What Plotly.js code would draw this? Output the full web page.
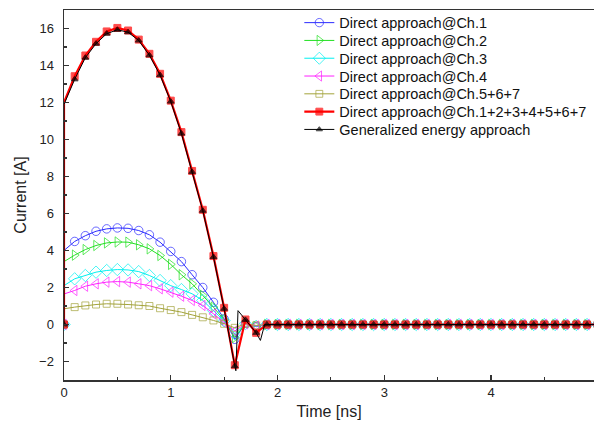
<!DOCTYPE html>
<html>
<head>
<meta charset="utf-8">
<script src="https://cdn.plot.ly/plotly-3.0.1.min.js"></script>
<style>html,body{margin:0;padding:0;background:#fff;}#chart{width:594px;height:423px;}</style>
</head>
<body>
<div id="chart"></div>
<script>
// Time grid (ns)
const time = [0,0.1,0.2,0.3,0.4,0.5,0.6,0.7,0.8,0.9,1.0,1.1,1.2,1.3,1.4,1.5,1.6,1.7,1.8,1.9,
  2.0,2.1,2.2,2.3,2.4,2.5,2.6,2.7,2.8,2.9,3.0,3.1,3.2,3.3,3.4,3.5,3.6,3.7,3.8,3.9,
  4.0,4.1,4.2,4.3,4.4,4.5,4.6,4.7,4.8,4.9,5.0];

// value right after the switch-on at t = 0
const startCh1 = 4.0, startCh2 = 3.4, startCh3 = 2.1, startCh4 = 1.65, startCh567 = 0.85, startTotal = 12.0, startEnergy = 11.9;

const ch1 = [0,4.49,4.80,5.04,5.17,5.22,5.20,5.08,4.85,4.45,3.95,3.40,2.69,2.00,1.20,0.30,-0.80,0.07,-0.12,0,
  0,0,0,0,0,0,0,0,0,0,0,0,0,0,0,0,0,0,0,0,0,0,0,0,0,0,0,0,0,0,0];
const ch2 = [0,3.75,4.05,4.27,4.41,4.46,4.45,4.31,4.09,3.73,3.25,2.69,2.20,1.57,0.94,0.25,-0.70,0.06,-0.10,0,
  0,0,0,0,0,0,0,0,0,0,0,0,0,0,0,0,0,0,0,0,0,0,0,0,0,0,0,0,0,0,0];
const ch3 = [0,2.47,2.65,2.83,2.92,2.97,2.95,2.86,2.65,2.38,2.10,1.89,1.66,1.30,0.76,0.20,-0.50,0.05,-0.10,0,
  0,0,0,0,0,0,0,0,0,0,0,0,0,0,0,0,0,0,0,0,0,0,0,0,0,0,0,0,0,0,0];
const ch4 = [0,1.84,2.07,2.20,2.29,2.32,2.29,2.20,2.10,1.93,1.75,1.53,1.30,1.03,0.58,0.12,-0.35,0.04,-0.08,0,
  0,0,0,0,0,0,0,0,0,0,0,0,0,0,0,0,0,0,0,0,0,0,0,0,0,0,0,0,0,0,0];
const ch567 = [0,0.94,1.03,1.08,1.12,1.12,1.08,1.04,1.00,0.88,0.78,0.67,0.52,0.39,0.22,0.04,-0.18,0.04,-0.05,0,
  0,0,0,0,0,0,0,0,0,0,0,0,0,0,0,0,0,0,0,0,0,0,0,0,0,0,0,0,0,0,0];
const total = [0,13.42,14.54,15.28,15.84,16.03,15.89,15.40,14.63,13.55,12.10,10.40,8.30,6.20,3.70,0.90,-2.20,0.27,-0.45,0,
  0,0,0,0,0,0,0,0,0,0,0,0,0,0,0,0,0,0,0,0,0,0,0,0,0,0,0,0,0,0,0];
const energy = [0,13.25,14.42,15.18,15.72,15.93,15.80,15.35,14.55,13.48,12.05,10.32,8.25,6.15,3.65,0.85,-2.25,0.25,-0.45,0,
  0,0,0,0,0,0,0,0,0,0,0,0,0,0,0,0,0,0,0,0,0,0,0,0,0,0,0,0,0,0,0];
// finer samples of the energy approach between grid points (no marker)
const energyExtraT = [1.61,1.63,1.84,1.88];
const energyExtraV = [-2.5,0.75,-0.86,0];

const names = ['Direct approach@Ch.1','Direct approach@Ch.2','Direct approach@Ch.3','Direct approach@Ch.4',
  'Direct approach@Ch.5+6+7','Direct approach@Ch.1+2+3+4+5+6+7','Generalized energy approach'];

function build(vals, start, extraT, extraV, msize) {
  let pts = [];
  pts.push({x: time[0], y: vals[0], m: msize, o: 0});
  pts.push({x: time[0], y: start, m: 0, o: 1});
  for (let i = 1; i < time.length; i++) pts.push({x: time[i], y: vals[i], m: msize, o: 0});
  if (extraT) for (let j = 0; j < extraT.length; j++) pts.push({x: extraT[j], y: extraV[j], m: 0, o: 0});
  pts.sort((a, b) => (a.x - b.x) || (a.o - b.o));
  return {x: pts.map(p => p.x), y: pts.map(p => p.y), s: pts.map(p => p.m)};
}

const specs = [
  {v: ch1, s0: startCh1, color: '#2b2bff', sym: 'circle-open', size: 8.5, lw: 1},
  {v: ch2, s0: startCh2, color: '#22e022', sym: 'triangle-right-open', size: 9, lw: 1},
  {v: ch3, s0: startCh3, color: '#00f0f0', sym: 'diamond-open', size: 9.5, lw: 1},
  {v: ch4, s0: startCh4, color: '#ff22ff', sym: 'triangle-left-open', size: 9, lw: 1},
  {v: ch567, s0: startCh567, color: '#a3a33a', sym: 'square-open', size: 7, lw: 1},
  {v: total, s0: startTotal, color: '#ff0000', sym: 'square', size: 7, lw: 2.2},
  {v: energy, s0: startEnergy, color: '#000000', sym: 'triangle-up', size: 6, lw: 1, eT: energyExtraT, eV: energyExtraV}
];

const FONT = 'Liberation Sans, Arial, sans-serif';
const xMax = 4.965;

const traces = specs.map((sp, k) => {
  const d = build(sp.v, sp.s0, sp.eT, sp.eV, sp.size);
  return {
    type: 'scatter', mode: 'lines+markers',
    name: names[k],
    legend: k === 0 ? 'legend' : 'legend' + (k + 1),
    x: d.x, y: d.y,
    line: {color: sp.color, width: sp.lw},
    marker: {symbol: sp.sym, size: d.s, color: sp.color, line: {color: sp.color, width: 1}},
    cliponaxis: true
  };
});

const layout = {
  width: 594, height: 423,
  margin: {l: 64, r: 0, t: 10, b: 43, pad: 0},
  paper_bgcolor: '#ffffff', plot_bgcolor: '#ffffff',
  font: {family: FONT, color: '#222222', size: 13},
  showlegend: true,
  xaxis: {
    range: [0, xMax], dtick: 1, tick0: 0, ticks: 'inside', ticklen: 5, tickwidth: 1.2, tickcolor: '#333',
    showline: true, linewidth: 1.5, linecolor: '#333', mirror: true,
    showgrid: false, zeroline: false,
    minor: {dtick: 0.5, ticks: 'inside', ticklen: 3, tickwidth: 1.2, tickcolor: '#333', showgrid: false},
    tickfont: {family: FONT, size: 13, color: '#222'},
    title: {text: 'Time [ns]', font: {family: FONT, size: 16, color: '#222'}, standoff: 6}
  },
  yaxis: {
    range: [-3, 17], dtick: 2, tick0: 0, ticks: 'inside', ticklen: 5, tickwidth: 1.2, tickcolor: '#333',
    showline: true, linewidth: 1.5, linecolor: '#333', mirror: false,
    showgrid: false, zeroline: false,
    minor: {dtick: 1, ticks: 'inside', ticklen: 3, tickwidth: 1.2, tickcolor: '#333', showgrid: false},
    tickfont: {family: FONT, size: 13, color: '#222'}, ticklabelstandoff: 6,
    title: {text: 'Current [A]', font: {family: FONT, size: 16, color: '#222'}, standoff: 8}
  },
  annotations: [{
    xref: 'paper', yref: 'paper', x: 5 / xMax, y: 0, yshift: -6,
    text: '5', showarrow: false, xanchor: 'center', yanchor: 'top',
    font: {family: FONT, size: 13, color: '#222'}
  }]
};

// one legend box per row so the rows sit as closely as in the reference
const plotTop = 10, plotH = 370, rowFirst = 22.7, rowStep = 17.8;
for (let k = 0; k < names.length; k++) {
  const key = k === 0 ? 'legend' : 'legend' + (k + 1);
  const yc = rowFirst + k * rowStep;
  layout[key] = {
    x: 0.444, y: 1 - (yc - plotTop) / plotH, xanchor: 'left', yanchor: 'middle',
    bgcolor: 'rgba(0,0,0,0)', borderwidth: 0,
    font: {family: FONT, size: 14.5, color: '#111111'}, itemwidth: 30
  };
}

Plotly.newPlot('chart', traces, layout, {displayModeBar: false, staticPlot: true});
</script>
</body>
</html>
